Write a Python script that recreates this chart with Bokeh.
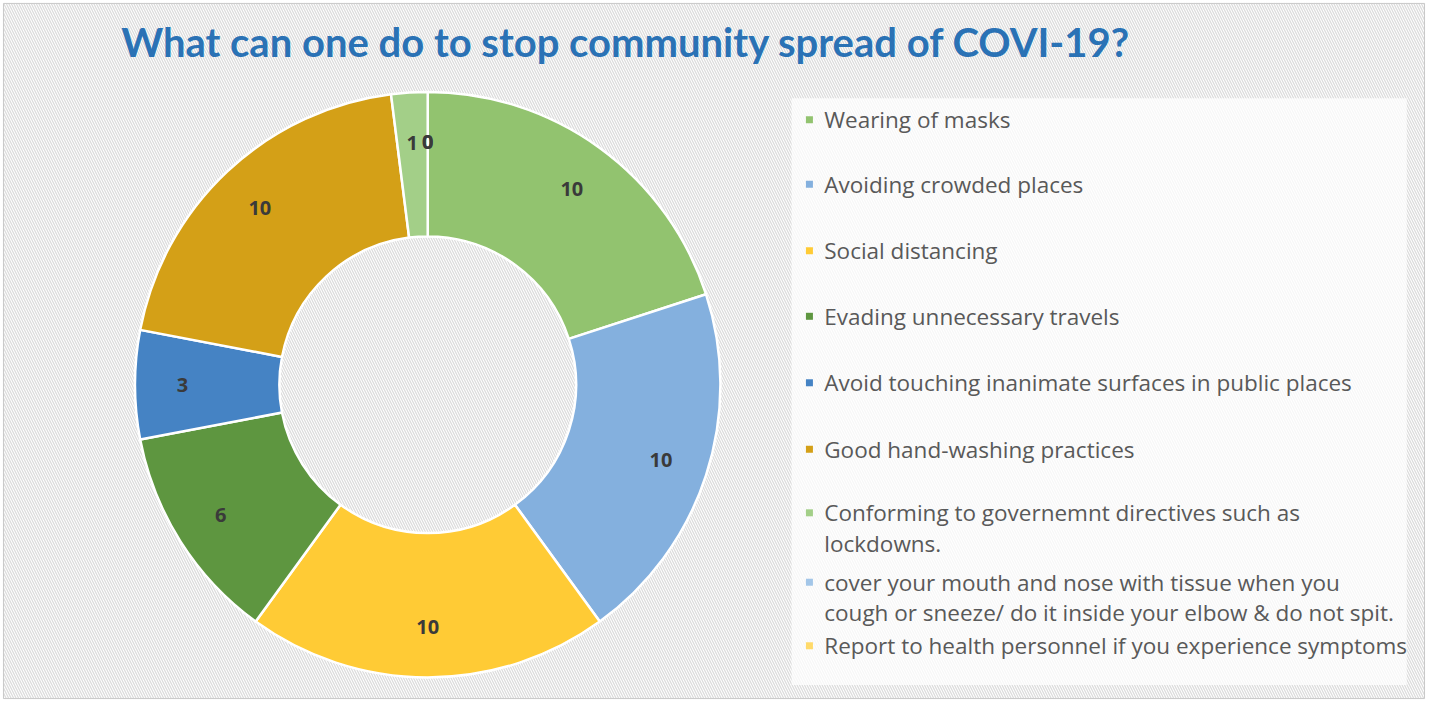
import math
from bokeh.plotting import figure
from bokeh.models import Range1d
from bokeh.embed import file_html
from bokeh.resources import INLINE
from bokeh.core.properties import value

# ---------------- data ----------------
title = "What can one do to stop community spread of COVI-19?"
categories = [
    "Wearing of masks",
    "Avoiding crowded places",
    "Social distancing",
    "Evading unnecessary travels",
    "Avoid touching inanimate surfaces in public places",
    "Good hand-washing practices",
    "Conforming to governemnt directives such as\nlockdowns.",
    "cover your mouth and nose with tissue when you\ncough or sneeze/ do it inside your elbow & do not spit.",
    "Report to health personnel if you experience symptoms",
]
values = [10, 10, 10, 6, 3, 10, 1, 0, 0]
colors = ["#92c36f", "#84b0de", "#ffcb35", "#5e9640", "#4583c4",
          "#d4a017", "#a3cf88", "#a3c6e8", "#ffda6a"]

# ---------------- layout (reference pixel space, y measured downward) ----------------
REF_W, REF_H = 1443, 717
W, H = 1427, 701
def Y(ys):
    return REF_H - ys

CX, CY = 432, Y(393)
R_OUT, R_IN = 296, 150
R_LABEL = 248

p = figure(width=W, height=H, output_backend="svg", toolbar_location=None,
           x_range=Range1d(0, REF_W), y_range=Range1d(0, REF_H),
           min_border=0, outline_line_color=None)
p.axis.visible = False
p.grid.visible = False
p.background_fill_color = "white"
p.border_fill_color = "white"

# hatched chart-area background with frame
p.quad(left=3, right=REF_W - 3, bottom=3, top=REF_H - 3,
       fill_color="white", hatch_pattern="\\", hatch_color="#dcdcdc",
       hatch_scale=5, hatch_weight=1.3, line_color="#c8c8c8", line_width=1)

# legend box
p.quad(left=800, right=1422, bottom=Y(700), top=Y(100),
       fill_color="white", fill_alpha=0.75, line_color=None)

# donut
total = float(sum(values))
cum = 0.0
starts, ends, mids = [], [], []
for v in values:
    a0 = cum / total * 2 * math.pi
    cum += v
    a1 = cum / total * 2 * math.pi
    starts.append(math.pi / 2 - a0)
    ends.append(math.pi / 2 - a1)
    mids.append(math.pi / 2 - (a0 + a1) / 2)

idx = [i for i, v in enumerate(values) if v > 0]
p.annular_wedge(x=CX, y=CY, inner_radius=R_IN, outer_radius=R_OUT,
                start_angle=[starts[i] for i in idx], end_angle=[ends[i] for i in idx],
                direction="clock", fill_color=[colors[i] for i in idx],
                line_color="white", line_width=2.5)

# data labels
lx = [CX + R_LABEL * math.cos(m) for m in mids]
ly = [CY + R_LABEL * math.sin(m) for m in mids]
p.text(x=lx, y=ly, text=[str(v) for v in values], text_font=value("Open Sans"),
       text_font_size="20px", text_font_style="bold", text_color="#3a3a3a",
       text_align="center", text_baseline="middle")

# title
p.text(x=[122], y=[Y(42)], text=[title], text_font=value("Lato"),
       text_font_size="40px", text_font_style="bold", text_color="#2a72b5",
       text_align="left", text_baseline="middle")

# legend
LEGEND_Y = [122, 188, 256, 323, 391, 459, 524, 595, 660]
LINE_STEP = 31
mx, my, tx, ty, tt = [], [], [], [], []
for i, lab in enumerate(categories):
    mx.append(818)
    my.append(Y(LEGEND_Y[i]))
    for j, line in enumerate(lab.split("\n")):
        tx.append(833)
        ty.append(Y(LEGEND_Y[i] + j * LINE_STEP))
        tt.append(line)
p.scatter(x=mx, y=my, marker="square", size=7, fill_color=colors, line_color=None)
p.text(x=tx, y=ty, text=tt, text_font=value("Open Sans"), text_font_size="22.5px",
       text_color="#595959", text_align="left", text_baseline="middle")

open("out.html", "w").write(file_html(p, INLINE))
